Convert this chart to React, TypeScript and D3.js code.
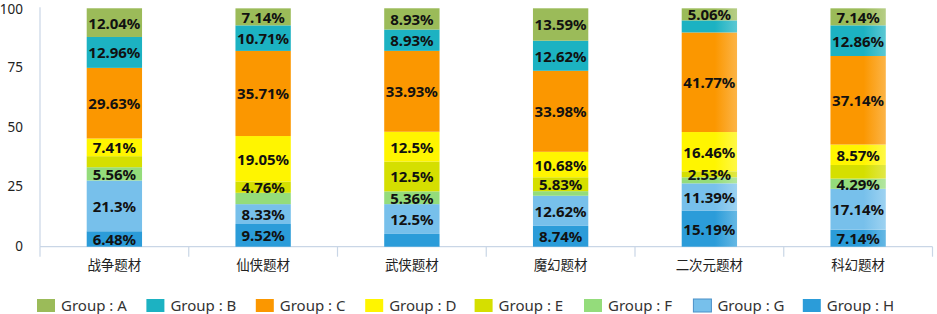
import React from "react";
import * as d3 from "d3";

const categories = ["战争题材", "仙侠题材", "武侠题材", "魔幻题材", "二次元题材", "科幻题材"];
const groups = ["A", "B", "C", "D", "E", "F", "G", "H"];
const groupA = [12.04, 7.14, 8.93, 13.59, 5.06, 7.14];
const groupB = [12.96, 10.71, 8.93, 12.62, 5.06, 12.86];
const groupC = [29.63, 35.71, 33.93, 33.98, 41.77, 37.14];
const groupD = [7.41, 19.05, 12.5, 10.68, 16.46, 8.57];
const groupE = [4.63, 4.76, 12.5, 5.83, 2.53, 5.71];
const groupF = [5.56, 4.76, 5.36, 1.94, 2.53, 4.29];
const groupG = [21.3, 8.33, 12.5, 12.62, 11.39, 17.14];
const groupH = [6.48, 9.52, 5.36, 8.74, 15.19, 7.14];
const yTicks = [0, 25, 50, 75, 100];
const colors = ["#9bbb59", "#1cb2c2", "#fb9700", "#fff500", "#d5df00", "#94dc7b", "#77c0eb", "#2b9cd9"];

const series = [groupA, groupB, groupC, groupD, groupE, groupF, groupG, groupH];

const W = 937;
const H = 314;
const left = 40;
const right = 932.5;
const top = 8.3;
const bottom = 246.7;

export default function App() {
  const rows = categories.map((c, i) => {
    const r: any = { cat: c };
    groups.forEach((g, k) => (r[g] = series[k][i]));
    return r;
  });
  const stackKeys = [...groups].reverse(); // H at bottom
  const stacked = d3.stack<any>().keys(stackKeys)(rows);
  const x = d3.scaleBand<string>().domain(categories).range([left, right]).padding(0);
  const y = d3.scaleLinear().domain([0, 100]).range([bottom, top]);
  const barW = x.bandwidth() * 0.372;
  const fontLabel = "'Noto Sans', 'DejaVu Sans', sans-serif";
  const cjk = "'Noto Sans CJK SC', sans-serif";

  const labels: { x: number; y: number; text: string }[] = [];
  categories.forEach((c, i) => {
    let last = -Infinity;
    groups.forEach((g) => {
      const s = stacked.find((st) => st.key === g)!;
      const d = s[i];
      const cy = (y(d[0]) + y(d[1])) / 2;
      if (cy - last < 18.5) return;
      if (cy + 7 > bottom) return;
      last = cy;
      labels.push({ x: x(c)! + x.bandwidth() / 2, y: cy, text: `${series[groups.indexOf(g)][i]}%` });
    });
  });

  const boundaries = [...categories.map((c) => x(c)!), right];

  return (
    <svg width={W} height={H} style={{ position: "absolute", left: 0, top: 0, background: "#fff" }}>
      <defs>
        {colors.map((col, k) => (
          <linearGradient key={k} id={`grad${k}`} x1="0" x2="1" y1="0" y2="0">
            <stop offset="0" stopColor={col} />
            <stop offset="0.6" stopColor={col} />
            <stop offset="1" stopColor={d3.interpolateRgb(col, "#ffffff")(0.28)} />
          </linearGradient>
        ))}
      </defs>
      <line x1={left} x2={left} y1={top - 1} y2={bottom} stroke="#c9d6e6" strokeWidth={1.2} />
      <line x1={left} x2={right} y1={bottom} y2={bottom} stroke="#c9d6e6" strokeWidth={1.2} />
      {boundaries.map((bx, i) => (
        <line key={i} x1={bx} x2={bx} y1={bottom} y2={bottom + 10} stroke="#c9d6e6" strokeWidth={1.2} />
      ))}
      {yTicks.map((t) => (
        <text key={t} x={23} y={Math.max(y(t) - 1, 9)} textAnchor="end" dominantBaseline="central" fontSize={13.5} fill="#222" fontFamily={fontLabel}>
          {t}
        </text>
      ))}
      {stacked.map((s) => {
        const k = groups.indexOf(s.key);
        return (
          <g key={s.key}>
            {s.map((d, i) => (
              <rect
                key={i}
                x={x(categories[i])! + (x.bandwidth() - barW) / 2}
                y={y(d[1])}
                width={barW}
                height={y(d[0]) - y(d[1])}
                fill={i >= 4 ? `url(#grad${k})` : colors[k]}
              />
            ))}
          </g>
        );
      })}
      {labels.map((l, i) => (
        <text key={i} x={l.x} y={l.y} textAnchor="middle" dominantBaseline="central" fontSize={15} fontWeight="bold" fill="#111" fontFamily={fontLabel}>
          {l.text}
        </text>
      ))}
      {categories.map((c) => (
        <text key={c} x={x(c)! + x.bandwidth() / 2} y={270} textAnchor="middle" fontSize={13.5} fill="#222" fontFamily={cjk}>
          {c}
        </text>
      ))}
      {groups.map((g, k) => {
        const lx = 37 + k * 109.4;
        return (
          <g key={g}>
            <rect x={lx} y={299} width={18} height={13} fill={colors[k]} stroke={g === "G" ? "#4a90c8" : "none"} strokeWidth={1} />
            <text x={lx + 24} y={311} fontSize={15} fill="#333" fontFamily={fontLabel}>
              {`Group : ${g}`}
            </text>
          </g>
        );
      })}
    </svg>
  );
}
